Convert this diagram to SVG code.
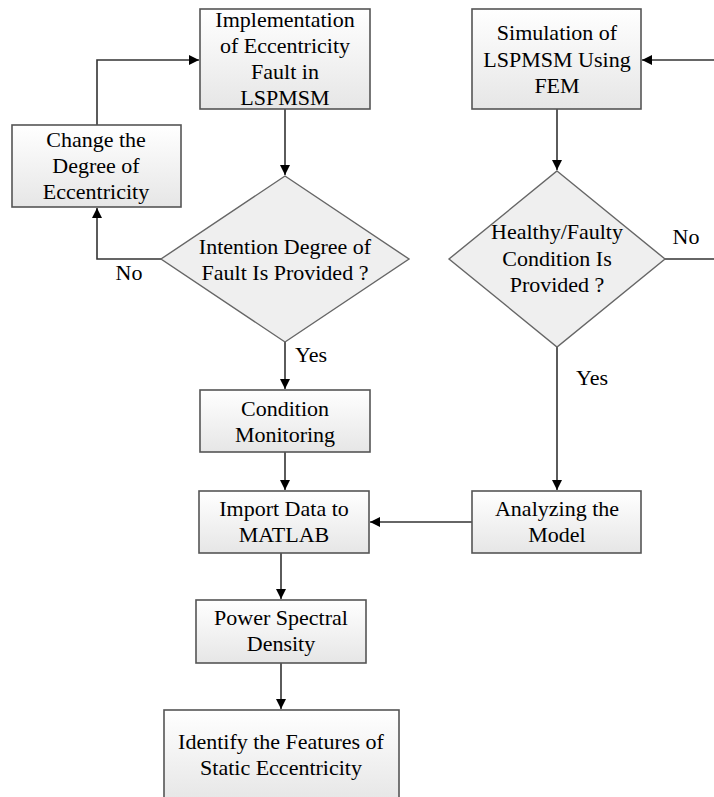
<svg xmlns="http://www.w3.org/2000/svg" width="714" height="797" viewBox="0 0 714 797">
<style>
text{font-family:'Liberation Serif','Times New Roman',serif;font-size:22px;fill:#000;text-anchor:middle}
.box{fill:url(#g);stroke:#555;stroke-width:1.6}
.dia{fill:#efefef;stroke:#666;stroke-width:1.4}
.c{fill:none;stroke:#333;stroke-width:1.6}
</style>
<defs>
<linearGradient id="g" x1="0" y1="0" x2="0" y2="1">
<stop offset="0" stop-color="#ffffff"/>
<stop offset="1" stop-color="#e6e6e6"/>
</linearGradient>
<marker id="a" viewBox="0 0 10 10" refX="10" refY="5" markerWidth="10" markerHeight="10" markerUnits="userSpaceOnUse" orient="auto">
<path d="M0,0 L10,5 L0,10 Z" fill="#000"/>
</marker>
</defs>
<g id="connectors">
<path class="c" d="M97,125 V60 H199" marker-end="url(#a)"/>
<path class="c" d="M285,109 V175" marker-end="url(#a)"/>
<path class="c" d="M161,259 H97 V208" marker-end="url(#a)"/>
<path class="c" d="M285,342 V389" marker-end="url(#a)"/>
<path class="c" d="M285,452 V490" marker-end="url(#a)"/>
<path class="c" d="M281,553 V599" marker-end="url(#a)"/>
<path class="c" d="M281,663 V709" marker-end="url(#a)"/>
<path class="c" d="M714,60 H642" marker-end="url(#a)"/>
<path class="c" d="M557,109 V170" marker-end="url(#a)"/>
<path class="c" d="M665,259 H714"/>
<path class="c" d="M557,347 V490" marker-end="url(#a)"/>
<path class="c" d="M472,522 H370" marker-end="url(#a)"/>
<text x="129" y="280">No</text>
<text x="311" y="362">Yes</text>
<text x="686" y="244">No</text>
<text x="592" y="385">Yes</text>
</g>
<g id="implementation">
<rect class="box" x="200" y="9" width="170" height="100"/>
<text x="285" y="27">Implementation</text>
<text x="285" y="53">of Eccentricity</text>
<text x="285" y="79">Fault in</text>
<text x="285" y="105">LSPMSM</text>
</g>
<g id="change">
<rect class="box" x="12" y="125" width="169" height="82"/>
<text x="96" y="147">Change the</text>
<text x="96" y="173">Degree of</text>
<text x="96" y="199">Eccentricity</text>
</g>
<g id="intention">
<polygon class="dia" points="285,176 409,259 285,342 161,259"/>
<text x="285" y="254">Intention Degree of</text>
<text x="285" y="280">Fault Is Provided ?</text>
</g>
<g id="condition">
<rect class="box" x="200" y="390" width="170" height="62"/>
<text x="285" y="416">Condition</text>
<text x="285" y="442">Monitoring</text>
</g>
<g id="import">
<rect class="box" x="199" y="491" width="170" height="62"/>
<text x="284" y="516">Import Data to</text>
<text x="284" y="542">MATLAB</text>
</g>
<g id="psd">
<rect class="box" x="196" y="600" width="170" height="63"/>
<text x="281" y="625">Power Spectral</text>
<text x="281" y="651">Density</text>
</g>
<g id="identify">
<rect class="box" x="164" y="710" width="235" height="92"/>
<text x="281" y="749">Identify the Features of</text>
<text x="281" y="775">Static Eccentricity</text>
</g>
<g id="simulation">
<rect class="box" x="472" y="9" width="169" height="100"/>
<text x="557" y="40">Simulation of</text>
<text x="557" y="67">LSPMSM Using</text>
<text x="557" y="93">FEM</text>
</g>
<g id="healthy">
<polygon class="dia" points="557,171 665,259 557,347 449,259"/>
<text x="557" y="239">Healthy/Faulty</text>
<text x="557" y="266">Condition Is</text>
<text x="557" y="292">Provided ?</text>
</g>
<g id="analyzing">
<rect class="box" x="472" y="491" width="169" height="62"/>
<text x="557" y="516">Analyzing the</text>
<text x="557" y="542">Model</text>
</g>
</svg>
